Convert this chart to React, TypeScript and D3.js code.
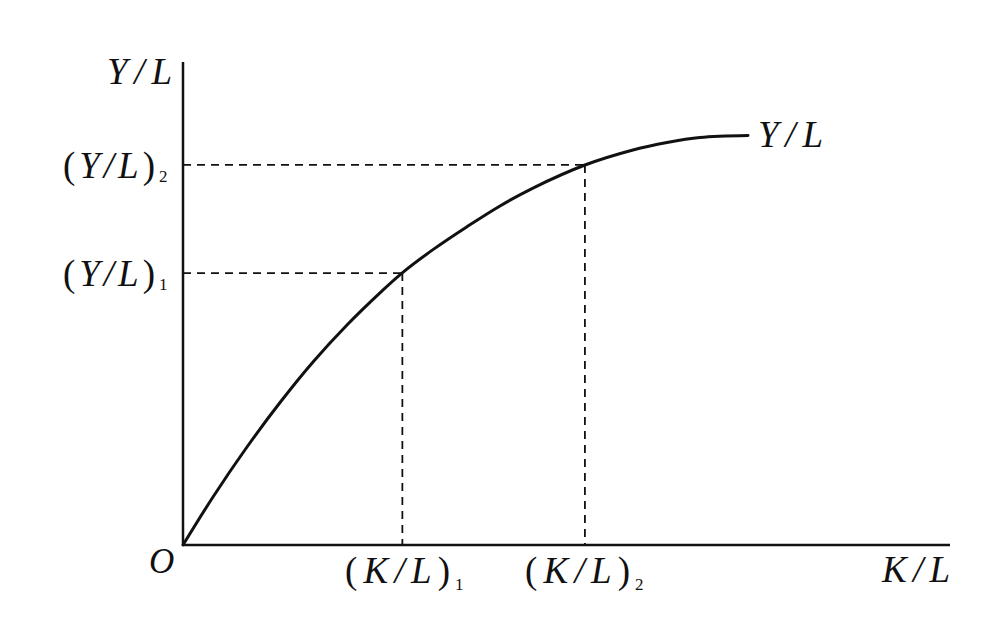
import React from "react";
import * as d3 from "d3";

// Curve samples (K/L, Y/L) in arbitrary units
const curveK = [0, 3.91, 8.34, 12.65, 16.95, 21.38, 25.68, 28.55, 32.59, 37.03, 41.33, 45.63, 52.41, 58.67, 63.1, 67.41, 73.66];
const curveY = [0, 9.94, 20.29, 29.5, 37.89, 45.55, 52.2, 56.3, 61.15, 65.9, 70.2, 73.9, 78.67, 81.78, 83.33, 84.37, 84.78];

// Marked points
const markK = [28.6, 52.4];
const markY = [56.3, 78.7];
const markSubs = ["1", "2"];

const W = 984;
const H = 622;

const FONT = "'Liberation Serif', 'DejaVu Serif', serif";

function Label({ x, y, width, main, sub, subDx, subDy, paren }: any) {
  return (
    <g fontFamily={FONT} fill="#111">
      <text x={x} y={y} fontSize={37} textLength={width} lengthAdjust="spacing">
        {paren ? <tspan fontStyle="normal">(</tspan> : null}
        <tspan fontStyle="italic">{main}</tspan>
        {paren ? <tspan fontStyle="normal">)</tspan> : null}
      </text>
      {sub ? (
        <text x={x + width + subDx} y={y + subDy} fontSize={17}>
          {sub}
        </text>
      ) : null}
    </g>
  );
}

export default function App() {
  const x = d3.scaleLinear().domain([0, 100]).range([183, 950]);
  const y = d3.scaleLinear().domain([0, 100]).range([545, 62]);

  const pts: [number, number][] = curveK.map((k, i) => [k, curveY[i]]);
  const line = d3
    .line<[number, number]>()
    .x((d) => x(d[0]))
    .y((d) => y(d[1]))
    .curve(d3.curveCatmullRom.alpha(0.5));

  return (
    <svg width={W} height={H} style={{ position: "absolute", left: 0, top: 0, background: "#fff" }}>
      <rect x={0} y={0} width={W} height={H} fill="#fff" />
      {/* axes */}
      <line x1={x(0)} y1={y(0)} x2={x(0)} y2={y(100)} stroke="#111" strokeWidth={2.5} />
      <line x1={x(0)} y1={y(0)} x2={x(100)} y2={y(0)} stroke="#111" strokeWidth={2.5} />
      {/* dashed guides */}
      {markK.map((k, i) => (
        <g key={i} stroke="#111" strokeWidth={1.8} strokeDasharray="8,6" fill="none">
          <line x1={x(0)} y1={y(markY[i])} x2={x(k)} y2={y(markY[i])} />
          <line x1={x(k)} y1={y(markY[i])} x2={x(k)} y2={y(0)} />
        </g>
      ))}
      {/* curve */}
      <path d={line(pts) || ""} fill="none" stroke="#111" strokeWidth={3} strokeLinecap="round" />

      {/* labels */}
      <Label x={107} y={84} width={65} main="Y/L" />
      <Label x={63} y={178} width={92} main="Y/L" paren sub={markSubs[1]} subDx={4} subDy={4} />
      <Label x={63} y={286} width={92} main="Y/L" paren sub={markSubs[0]} subDx={4} subDy={4} />
      <text x={149} y={573} fontSize={35} fontStyle="italic" fontFamily={FONT} fill="#111">O</text>
      <Label x={345} y={583} width={105} main="K/L" paren sub={markSubs[0]} subDx={5} subDy={7} />
      <Label x={525} y={583} width={105} main="K/L" paren sub={markSubs[1]} subDx={5} subDy={7} />
      <Label x={882} y={582} width={68} main="K/L" />
      <Label x={758} y={147} width={65} main="Y/L" />
    </svg>
  );
}
